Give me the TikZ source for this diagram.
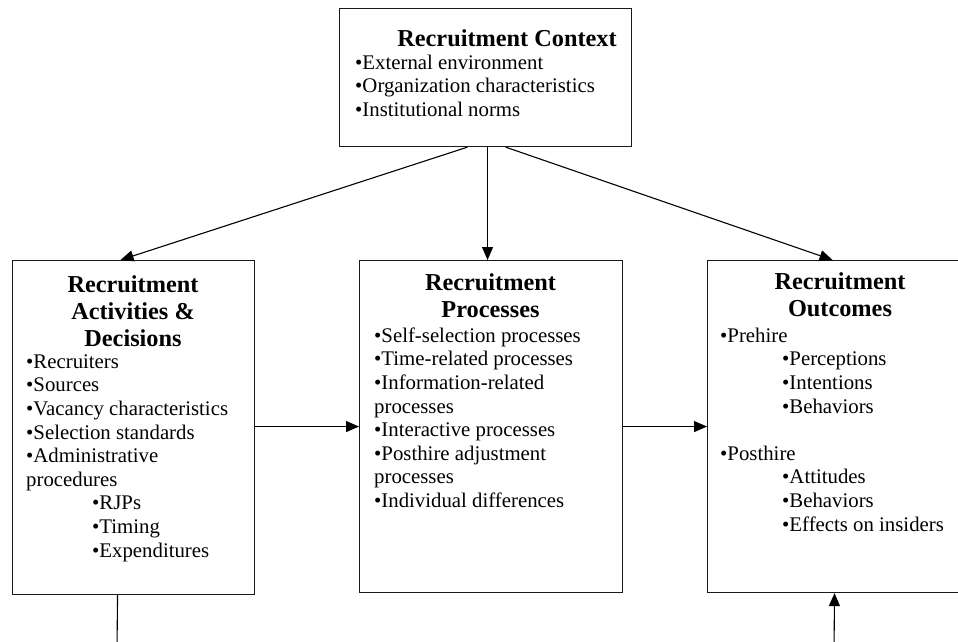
\documentclass[tikz,border=0pt]{standalone}
\usepackage{fontspec}
\setmainfont{Liberation Serif}
\usetikzlibrary{arrows.meta,calc}
\begin{document}
\begin{tikzpicture}[x=1pt,y=-1pt,
  box/.style={draw=black!90, line width=1.1pt, rectangle, inner sep=0pt, anchor=north west},
  ttl/.style={font=\fontsize{24.3}{27}\selectfont\bfseries, align=center, inner sep=0pt, anchor=north},
  lst/.style={font=\fontsize{20.8}{23.6}\selectfont, align=left, inner sep=0pt, anchor=north west},
  arr/.style={line width=1.1pt, -{Triangle[length=13pt,width=11pt]}},
  ln/.style={line width=1.1pt}]
\useasboundingbox (0,0) rectangle (958,642);
\fill[white] (0,0) rectangle (958,642);
\clip (0,0) rectangle (958,642);

% boxes
\node[box, minimum width=292pt, minimum height=138pt] (ctx) at (339,8) {};
\node[box, minimum width=242pt, minimum height=334pt] (act) at (12,260) {};
\node[box, minimum width=263pt, minimum height=332pt] (proc) at (359,260) {};
\node[box, minimum width=266pt, minimum height=332pt] (out) at (707,260) {};

% titles
\node[ttl] (ctxT) at (507,28) {\rule{0pt}{18pt}Recruitment Context};
\node[ttl] (actT) at (133,274) {\rule{0pt}{18pt}Recruitment\\Activities \&\\Decisions};
\node[ttl] (procT) at (490.5,272) {\rule{0pt}{18pt}Recruitment\\Processes};
\node[ttl] (outT) at (840,271) {\rule{0pt}{18pt}Recruitment\\Outcomes};

% lists
\node[lst] (ctxL) at (355,53) {\rule{0pt}{16pt}•External environment\\•Organization characteristics\\•Institutional norms};
\node[lst] (actL) at (26,352) {\rule{0pt}{16pt}•Recruiters\\•Sources\\•Vacancy characteristics\\•Selection standards\\•Administrative\\procedures\\\hspace*{66pt}•RJPs\\\hspace*{66pt}•Timing\\\hspace*{66pt}•Expenditures};
\node[lst] (procL) at (374,326) {\rule{0pt}{16pt}•Self-selection processes\\•Time-related processes\\•Information-related\\processes\\•Interactive processes\\•Posthire adjustment\\processes\\•Individual differences};
\node[lst] (outL) at (720,326) {\rule{0pt}{16pt}•Prehire\\\hspace*{62pt}•Perceptions\\\hspace*{62pt}•Intentions\\\hspace*{62pt}•Behaviors\\[23.6pt]•Posthire\\\hspace*{62pt}•Attitudes\\\hspace*{62pt}•Behaviors\\\hspace*{62pt}•Effects on insiders};

% connector end points
\coordinate (ctxSL) at ($(ctx.south)+(-18,0)$);
\coordinate (ctxSM) at ($(ctx.south)+(2,0)$);
\coordinate (ctxSR) at ($(ctx.south)+(20,0)$);
\coordinate (actN) at ($(act.north)+(-13,0)$);
\coordinate (outN) at ($(out.north)+(-8,0)$);
\coordinate (actS) at ($(act.south)+(-16,0)$);
\coordinate (actEnd) at (117,650);
\coordinate (outS) at ($(out.south)+(-6,0)$);
\coordinate (outFree) at (834,650);

% connectors
\draw[arr] (ctxSL) -- (actN);
\draw[arr] (ctxSM) -- (ctxSM |- proc.north);
\draw[arr] (ctxSR) -- (outN);
\draw[arr] (proc.west -| act.east) -- (proc.west);
\draw[arr] (proc.east) -- (out.west);
\draw[ln] (actS) -- (actEnd);
\draw[arr] (outFree) -- (outS);
\end{tikzpicture}
\end{document}
